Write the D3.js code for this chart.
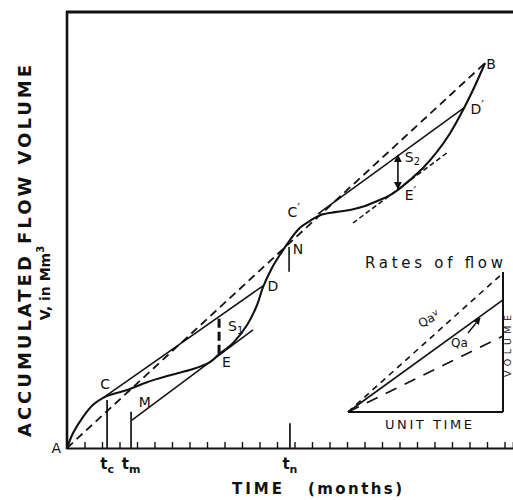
<!DOCTYPE html>
<html>
<head>
<meta charset="utf-8">
<script src="https://cdn.jsdelivr.net/npm/d3@7"></script>
<style>
  html, body { margin: 0; padding: 0; background: #fff; }
  svg { display: block; }
  text { font-family: "DejaVu Sans", sans-serif; fill: #111; }
</style>
</head>
<body>
<svg id="chart" width="513" height="500"></svg>
<script>
// Mass curve of accumulated inflow (months, volume in Mm³)
const massCurve = [
  [0, 0], [0.34, 3.4], [0.91, 7.1], [1.49, 9.9], [2.06, 11.5], [2.63, 12.4],
  [3.43, 13.3], [4.57, 15.1], [5.89, 16.7], [7.2, 18.1], [8.17, 19.7], [8.63, 21.3],
  [9.49, 24.1], [10.29, 28.2], [10.86, 32.8], [11.2, 36.9], [11.71, 41.3],
  [12.23, 44.7], [12.74, 47.7], [13.31, 50.5], [13.89, 52.1], [14.46, 53.4],
  [15.31, 54.1], [16.17, 54.6], [17.03, 55.5], [17.77, 56.7], [18.46, 58.0],
  [18.91, 59.2], [19.6, 61.5], [20.34, 64.2], [21.14, 67.9], [21.89, 72.2],
  [22.63, 77.5], [23.2, 82.1], [23.89, 88.3]
];

// Average line A–B (dashed)
const averageLine = [[0, 0], [23.89, 88.3]];
// Demand lines drawn tangent to the mass curve
const demandLines = [
  { name: "CD",   pts: [[2.06, 11.5], [11.2, 37.2]],  dash: null },
  { name: "ME",   pts: [[3.71, 6.4], [10.63, 27.1]],  dash: null },
  { name: "C'D'", pts: [[14.34, 53.7], [22.74, 78.2]], dash: null },
  { name: "E'",   pts: [[16.34, 51.6], [21.71, 67.7]], dash: "5,3" }
];
// Storage ordinates S1 and S2
const storages = [
  { name: "S1", t: 8.69,  lo: 21.6, hi: 30.5 },
  { name: "S2", t: 18.91, lo: 59.4, hi: 67.2 }
];
// Time markers on the axis: [label, subscript, month, top volume]
const timeMarks = [
  ["t", "c", 2.29, 11.0],
  ["t", "m", 3.66, 8.3],
  ["t", "n", 12.74, 5.7]
];
// Short mark at N
const nMark = { t: 12.69, lo: 40.4, hi: 46.1 };
// Month ticks
const monthTicks = d3.range(1, 26);
// Point labels: [text, prime, subscript, month, volume]
const pointLabels = [
  ["C", "", "", 1.9, 13.6],
  ["M", "", "", 4.1, 9.5],
  ["E", "", "", 8.85, 18.5],
  ["S", "", "1", 9.2, 26.9],
  ["D", "", "", 11.45, 36.0],
  ["N", "", "", 12.9, 44.4],
  ["C", "′", "", 12.6, 53.0],
  ["E", "′", "", 19.3, 56.9],
  ["S", "", "2", 19.3, 65.7],
  ["D", "′", "", 23.05, 76.5],
  ["B", "", "", 23.95, 87.0]
];

// Inset: rates of flow per unit time
const insetRates = [
  { name: "upper", rate: 0.897, dash: "6,5" },
  { name: "Qa",    rate: 0.723, dash: null },
  { name: "lower", rate: 0.49,  dash: "12,9" }
];
const insetSide = 0.903;

const svg = d3.select("#chart");
const ink = "#111";

const x = d3.scaleLinear().domain([0, 25.5]).range([67, 513.25]);
const y = d3.scaleLinear().domain([0, 100]).range([448, 12]);

// Frame: left axis and top border
svg.append("line").attr("x1", 67).attr("x2", 67).attr("y1", 11).attr("y2", 449)
  .attr("stroke", ink).attr("stroke-width", 2.6);
svg.append("line").attr("x1", 66).attr("x2", 513).attr("y1", 12).attr("y2", 12)
  .attr("stroke", ink).attr("stroke-width", 2.8);

// Bottom axis with small inward ticks
const xAxis = d3.axisTop(x).tickValues(monthTicks).tickSize(6).tickFormat("");
const gx = svg.append("g").attr("transform", `translate(0,${y(0)})`).call(xAxis);
gx.select(".domain").attr("stroke", ink).attr("stroke-width", 2.2);
gx.selectAll(".tick line").attr("stroke", ink).attr("stroke-width", 1.4);

// Average dashed line A–B
const lineGen = d3.line().x(d => x(d[0])).y(d => y(d[1]));
svg.append("path").attr("d", lineGen(averageLine))
  .attr("fill", "none").attr("stroke", ink).attr("stroke-width", 1.8)
  .attr("stroke-dasharray", "8,5");

// Demand lines
demandLines.forEach(l => {
  svg.append("path").attr("d", lineGen(l.pts))
    .attr("fill", "none").attr("stroke", ink).attr("stroke-width", 1.5)
    .attr("stroke-dasharray", l.dash);
});

// Mass curve
const curveGen = d3.line().x(d => x(d[0])).y(d => y(d[1])).curve(d3.curveCatmullRom.alpha(0.5));
svg.append("path").attr("d", curveGen(massCurve))
  .attr("fill", "none").attr("stroke", ink).attr("stroke-width", 2.1);

// Storage ordinates
const defs = svg.append("defs");
defs.append("marker").attr("id", "arr").attr("viewBox", "0 0 10 10")
  .attr("refX", 9).attr("refY", 5).attr("markerWidth", 5).attr("markerHeight", 5)
  .attr("orient", "auto-start-reverse")
  .append("path").attr("d", "M0,0 L10,5 L0,10 z").attr("fill", ink);

storages.forEach((s, i) => {
  const l = svg.append("line")
    .attr("x1", x(s.t)).attr("x2", x(s.t))
    .attr("y1", y(s.lo)).attr("y2", y(s.hi))
    .attr("stroke", ink);
  if (i === 0) {
    l.attr("stroke-width", 3).attr("stroke-dasharray", "9,4");
  } else {
    l.attr("stroke-width", 1.6)
      .attr("marker-start", "url(#arr)").attr("marker-end", "url(#arr)");
  }
});

// Time markers tc, tm, tn
timeMarks.forEach(m => {
  svg.append("line").attr("x1", x(m[2])).attr("x2", x(m[2]))
    .attr("y1", y(0)).attr("y2", y(m[3]))
    .attr("stroke", ink).attr("stroke-width", 1.7);
  const t = svg.append("text").attr("x", x(m[2])).attr("y", 469)
    .attr("text-anchor", "middle").attr("font-size", 15).attr("font-weight", "bold");
  t.append("tspan").text(m[0]);
  t.append("tspan").attr("dy", 4).attr("font-size", 11).text(m[1]);
});
svg.append("line").attr("x1", x(nMark.t)).attr("x2", x(nMark.t))
  .attr("y1", y(nMark.lo)).attr("y2", y(nMark.hi))
  .attr("stroke", ink).attr("stroke-width", 1.6);

// Point labels
pointLabels.forEach(p => {
  const t = svg.append("text").attr("x", x(p[3])).attr("y", y(p[4]))
    .attr("font-size", 14);
  t.append("tspan").text(p[0]);
  if (p[1]) t.append("tspan").attr("dy", -5).attr("font-size", 12).text(p[1]);
  if (p[2]) t.append("tspan").attr("dy", 3).attr("font-size", 10).text(p[2]);
});
svg.append("text").attr("x", 61).attr("y", 453).attr("text-anchor", "end")
  .attr("font-size", 14).text("A");

// Axis titles
svg.append("text")
  .attr("transform", "translate(31,251) rotate(-90)")
  .attr("text-anchor", "middle").attr("font-size", 18).attr("font-weight", "bold")
  .attr("textLength", 372).attr("lengthAdjust", "spacing")
  .text("ACCUMULATED FLOW VOLUME");
const vl = svg.append("text")
  .attr("transform", "translate(50,283) rotate(-90)")
  .attr("text-anchor", "middle").attr("font-size", 14).attr("font-weight", "bold");
vl.append("tspan").text("V, in Mm");
vl.append("tspan").attr("dy", -6).attr("font-size", 10).text("3");

svg.append("text").attr("x", 232).attr("y", 494).attr("font-size", 15).attr("font-weight", "bold")
  .attr("textLength", 50).attr("lengthAdjust", "spacing").text("TIME");
svg.append("text").attr("x", 308).attr("y", 494).attr("font-size", 15).attr("font-weight", "bold")
  .attr("textLength", 94).attr("lengthAdjust", "spacing").text("(months)");

// Inset: rates of flow
const ix = d3.scaleLinear().domain([0, 1]).range([348, 503]);
const iy = d3.scaleLinear().domain([0, 1]).range([412, 257]);

svg.append("line").attr("x1", ix(0)).attr("x2", ix(1)).attr("y1", iy(0)).attr("y2", iy(0))
  .attr("stroke", ink).attr("stroke-width", 2);
svg.append("line").attr("x1", ix(1)).attr("x2", ix(1)).attr("y1", iy(0)).attr("y2", iy(insetSide))
  .attr("stroke", ink).attr("stroke-width", 2);
insetRates.forEach(r => {
  svg.append("line").attr("x1", ix(0)).attr("y1", iy(0))
    .attr("x2", ix(1)).attr("y2", iy(r.rate))
    .attr("stroke", ink).attr("stroke-width", 1.6)
    .attr("stroke-dasharray", r.dash);
});

svg.append("text").attr("x", 365).attr("y", 268).attr("font-size", 15)
  .attr("textLength", 138).attr("lengthAdjust", "spacing").text("Rates of flow");
svg.append("text").attr("x", 385).attr("y", 429).attr("font-size", 13)
  .attr("textLength", 87).attr("lengthAdjust", "spacing").text("UNIT TIME");
svg.append("text").attr("transform", "translate(510.5,346) rotate(-90)")
  .attr("text-anchor", "middle").attr("font-size", 9.5)
  .attr("textLength", 62).attr("lengthAdjust", "spacing").text("VOLUME");

const qav = svg.append("text").attr("transform", "translate(421,328) rotate(-28)")
  .attr("font-size", 12);
qav.append("tspan").text("Qa");
qav.append("tspan").attr("dy", -4).attr("font-size", 9).text("v");
svg.append("text").attr("x", 451).attr("y", 347).attr("font-size", 12).text("Qa");
svg.append("line").attr("x1", 468).attr("y1", 333).attr("x2", 480).attr("y2", 318)
  .attr("stroke", ink).attr("stroke-width", 1.4).attr("marker-end", "url(#arr)");
</script>
</body>
</html>
